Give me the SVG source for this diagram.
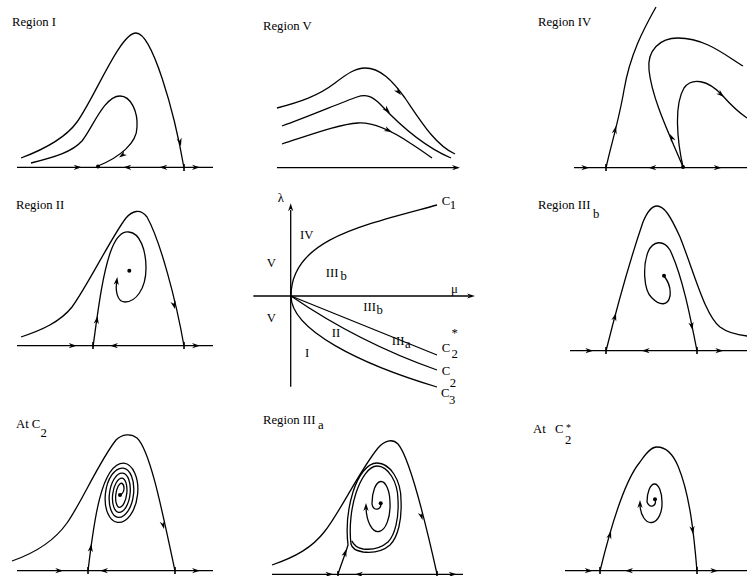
<svg xmlns="http://www.w3.org/2000/svg" xmlns:xlink="http://www.w3.org/1999/xlink" width="747" height="576" viewBox="0 0 747 576">
<style>
.c{fill:none;stroke:#000;stroke-width:1.3}
.k{fill:none;stroke:#000;stroke-width:1.6}
.t{font-family:"Liberation Serif",serif;font-size:12.7px;fill:#000}
.s{font-size:10px}
</style>
<defs>
<path id="a" d="M0,0 L-8,-2.6 L-5.5,0 L-8,2.6 Z" fill="#000"/>
</defs>
<rect width="747" height="576" fill="#fff"/>

<g id="p1">
<text class="t" x="12" y="26">Region I</text>
<path class="c" d="M17,167.3 H213"/>
<path class="c" d="M21,158 C41,150.5 64,140 77,122 C95,97 120,33 136,33 C152,33 174,110 184,168"/>
<path class="c" d="M31,163 C55,157 72,152 82,141 C92,129 104,96 120,96 C131,96 138,112 137,127 C137,143 120,157 98,166"/>
<circle cx="98" cy="166.5" r="2"/>
<path class="k" d="M184,164 V171"/>
<use href="#a" transform="translate(181,146) rotate(76)"/>
<use href="#a" transform="translate(119,157.5) rotate(145)"/>
<use href="#a" transform="translate(81.7,167.3)"/>
<use href="#a" transform="translate(123.3,167.3) rotate(180)"/>
<use href="#a" transform="translate(159.3,167.3) rotate(180)"/>
<use href="#a" transform="translate(200,167.3)"/>
</g>

<g id="p2">
<text class="t" x="263" y="30">Region V</text>
<path class="c" d="M277,167.7 H455"/>
<use href="#a" transform="translate(460,167.7)"/>
<path class="c" d="M277,108 C300,102 318,96 335,83 C348,73 356,68 365,68 C380,68 392,80 405,98 C420,120 435,145 455,154"/>
<path class="c" d="M282,126 C310,116 340,103 357,97 C366,94 372,96 380,104 C395,120 420,145 451,158"/>
<path class="c" d="M282,144 C310,135 340,124 358,123 C375,122 395,133 410,143 C418,148 425,153 432,158"/>
<use href="#a" transform="translate(401,95) rotate(50)"/>
<use href="#a" transform="translate(390,113) rotate(45)"/>
<use href="#a" transform="translate(392,132) rotate(24)"/>
</g>

<g id="p3">
<text class="t" x="538" y="26">Region IV</text>
<path class="c" d="M574,167.7 H747"/>
<path class="c" d="M656,7 C643,30 630,55 624,90 C619,120 611,145 606,168"/>
<path class="c" d="M683,167 C672,140 652,100 649,70 C647,50 660,38 678,38 C705,38 725,55 743,66"/>
<path class="c" d="M683,167 C677,140 674,105 684,88 C692,77 708,80 722,95 C730,104 738,112 747,118"/>
<circle cx="683" cy="167" r="2"/>
<path class="k" d="M606,164 V171"/>
<use href="#a" transform="translate(616,126) rotate(-77)"/>
<use href="#a" transform="translate(670,134) rotate(-115)"/>
<use href="#a" transform="translate(724,97) rotate(41)"/>
<use href="#a" transform="translate(589.3,167.7)"/>
<use href="#a" transform="translate(648.3,167.7) rotate(180)"/>
<use href="#a" transform="translate(721.7,167.7)"/>
</g>

<g id="p4">
<text class="t" x="16" y="209">Region II</text>
<path class="c" d="M17,345.7 H213"/>
<path class="c" d="M21,337 C42,330 60,322 72,307 C88,285 112,236 126,218 C132,211 140,208 147,217 C160,240 176,300 184,346"/>
<path class="c" d="M93,347 C98,310 103,270 112,248 C117,236 123,231 129,232 C140,233 146,250 146,268 C146,290 135,302 125,302 C117,302 115,290 117,281"/>
<circle cx="129.3" cy="270.7" r="2"/>
<path class="k" d="M93,342 V349"/>
<path class="k" d="M184,342 V349"/>
<use href="#a" transform="translate(175,309) rotate(75)"/>
<use href="#a" transform="translate(97.5,316) rotate(-81)"/>
<use href="#a" transform="translate(117.3,277) rotate(-82)"/>
<use href="#a" transform="translate(76.7,345.7)"/>
<use href="#a" transform="translate(110,345.7) rotate(180)"/>
<use href="#a" transform="translate(200,345.7)"/>
</g>

<g id="p5">
<path class="c" d="M290.7,386.7 V210"/>
<use href="#a" transform="translate(290.7,203.3) rotate(-90)"/>
<path class="c" d="M253.3,296 H469"/>
<use href="#a" transform="translate(475,296)"/>
<path class="c" d="M291,296 C291,240 360,226 437,205"/>
<path class="c" d="M291,296 C291,330 360,364 437,387"/>
<path class="c" d="M291,296 L437,355"/>
<path class="c" d="M291,296 C310,309 360,343 437,370"/>
<text class="t" x="277.7" y="201.7">λ</text>
<text class="t" x="451" y="293">μ</text>
<text class="t" x="300" y="239.3">IV</text>
<text class="t" x="266.7" y="267.3">V</text>
<text class="t" x="325.7" y="276.7">III<tspan dx="2" dy="3.3">b</tspan></text>
<text class="t" x="363.3" y="311">III<tspan dx="0.5" dy="3">b</tspan></text>
<text class="t" x="266.7" y="321.7">V</text>
<text class="t" x="331.7" y="337.3">II</text>
<text class="t" x="305" y="356.7">I</text>
<text class="t" x="391.7" y="345">III<tspan dx="0.5" dy="3.3">a</tspan></text>
<text class="t" x="441.7" y="205">C<tspan dx="-0.3" dy="3.5">1</tspan></text>
<text class="t" x="441.7" y="352">C<tspan dx="1.3" dy="-15">*</tspan><tspan dx="-6.3" dy="21">2</tspan></text>
<text class="t" x="441.7" y="375">C<tspan dx="-0.3" dy="12">2</tspan></text>
<text class="t" x="441" y="397">C<tspan dx="-0.5" dy="7">3</tspan></text>
</g>

<g id="p6">
<text class="t" x="538" y="209">Region III<tspan x="593" y="218">b</tspan></text>
<path class="c" d="M570,350.7 H747"/>
<path class="c" d="M606,351 C615,315 630,260 643,222 C648,210 652,206 657,206 C664,206 670,215 680,237 C695,275 705,315 720,327 C728,333 738,335 747,336"/>
<path class="c" d="M697,351 C690,315 682,275 670,250 C664,240 653,240 648,252 C643,265 643,290 652,298 C660,306 668,306 670,296 C671,288 668,281 664,276"/>
<circle cx="664" cy="275.7" r="2"/>
<path class="k" d="M606,347 V354"/>
<path class="k" d="M697,347 V354"/>
<use href="#a" transform="translate(616,313) rotate(-74)"/>
<use href="#a" transform="translate(692.5,330) rotate(79)"/>
<use href="#a" transform="translate(593.3,350.7)"/>
<use href="#a" transform="translate(641.7,350.7) rotate(180)"/>
<use href="#a" transform="translate(723.3,350.7)"/>
</g>

<g id="p7">
<text class="t" x="16" y="428">At C<tspan x="40.5" y="437">2</tspan></text>
<path class="c" d="M17,570.7 H213"/>
<path class="c" d="M12,561 C35,553 55,540 67,523 C80,505 100,460 116,440 C122,434 131,433 137,438 C150,450 162,510 175,571"/>
<path class="c" d="M88,571 C93,530 100,463 123.8,463.2 A17 29.75 6 0 1 117.5,522.4 A15 27.25 6 0 1 123.2,468.1 A13 24.75 6 0 1 118,517.4 A11 22.25 6 0 1 122.7,473.1 A9.5 19.75 6 0 1 118.6,512.4 A8 17.25 6 0 1 122.2,478.1 A6.5 14.75 6 0 1 119.1,507.4 A5 12.25 6 0 1 121.7,483.1 C125,485 125,493 120,495"/>
<circle cx="120" cy="495" r="2"/>
<path class="k" d="M88,567 V574"/>
<path class="k" d="M175,567 V574"/>
<use href="#a" transform="translate(164,529) rotate(77)"/>
<use href="#a" transform="translate(91.3,544) rotate(-83)"/>
<use href="#a" transform="translate(63.3,570.7)"/>
<use href="#a" transform="translate(100,570.7) rotate(180)"/>
<use href="#a" transform="translate(200,570.7)"/>
</g>

<g id="p8">
<text class="t" x="263" y="424">Region III<tspan x="318" y="429">a</tspan></text>
<path class="c" d="M272,574.3 H463"/>
<path class="c" d="M272,565 C295,557 312,548 325,531 C340,512 360,470 378,448 C384,441 392,438 398,444 C410,458 425,520 437,574"/>
<path class="c" d="M338,574 C342,562 346,552 348,545 C346,528 348,508 353,492 C358,476 367,463 377,463 C390,463 401,480 401,500 C402,520 398,537 390,545 C382,552 372,553 363,552 C357,551 352,549 351,544 C349,528 351,508 356,493 C361,478 369,466 377,466 C388,466 398,482 398,500 C399,518 395,535 388,542 C381,548 372,550 363,549 C358,548 354,546 352,541"/>
<path class="c" d="M380.7,503.3 C382,510 373,512 372,504 A9 22 0 0 1 390,503 A12 26 0 0 1 366,508"/>
<circle cx="380.7" cy="503.3" r="2"/>
<path class="k" d="M338,571 V576"/>
<path class="k" d="M437,571 V576"/>
<use href="#a" transform="translate(422.5,520) rotate(75)"/>
<use href="#a" transform="translate(346.5,549) rotate(-71)"/>
<use href="#a" transform="translate(366,503) rotate(-90)"/>
<use href="#a" transform="translate(333.3,574.3)"/>
<use href="#a" transform="translate(355,574.3) rotate(180)"/>
<use href="#a" transform="translate(456.7,574.3)"/>
</g>

<g id="p9">
<text class="t" x="533" y="433">At<tspan x="555" y="433">C</tspan><tspan class="s" x="566" y="431">*</tspan><tspan x="565" y="443.5">2</tspan></text>
<path class="c" d="M565,570.7 H747"/>
<path class="c" d="M600,571 C610,530 625,480 640,462 C646,453 651,447 657,447 C664,447 672,452 678,466 C690,495 694,535 697,571"/>
<path class="c" d="M655,499.3 C657,506 650,509 647,502 A7.5 18 0 0 1 662,502 A11 19 0 0 1 640,505"/>
<circle cx="655" cy="499.3" r="2"/>
<path class="k" d="M600,567 V574"/>
<path class="k" d="M697,567 V574"/>
<use href="#a" transform="translate(611,531) rotate(-74)"/>
<use href="#a" transform="translate(693,534) rotate(83)"/>
<use href="#a" transform="translate(640,500) rotate(-90)"/>
<use href="#a" transform="translate(592.7,570.7)"/>
<use href="#a" transform="translate(625,570.7) rotate(180)"/>
<use href="#a" transform="translate(718.3,570.7)"/>
</g>
</svg>
